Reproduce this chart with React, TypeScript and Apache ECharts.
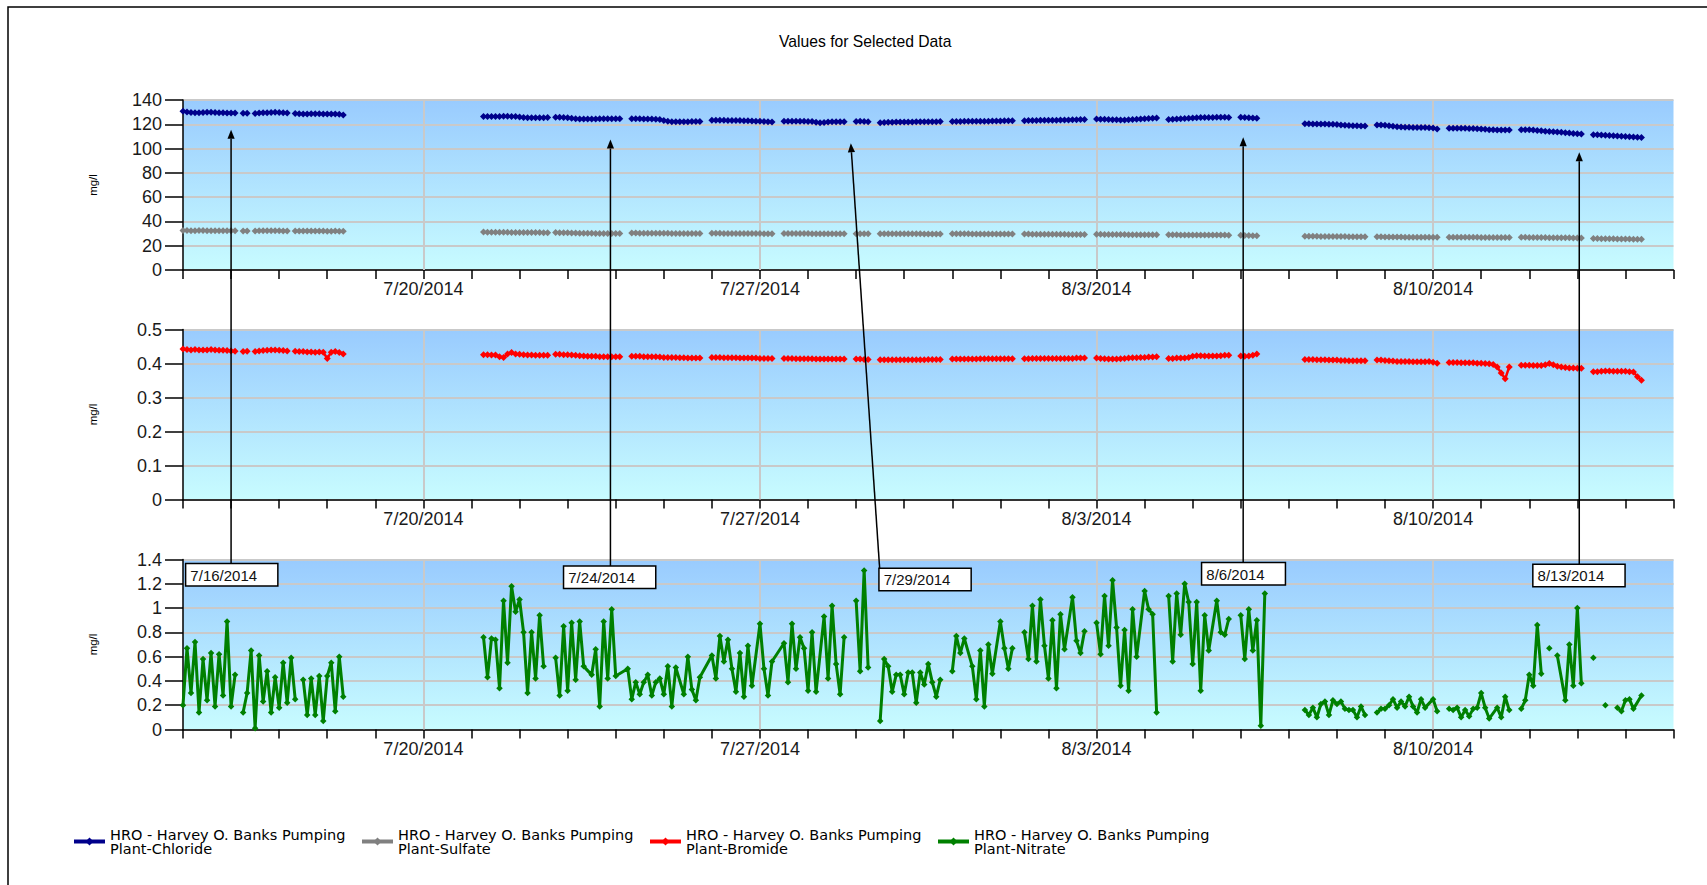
import React, { useEffect, useRef } from 'react';
import * as echarts from 'echarts';

const N = null;
const S = undefined; // sample absent, but the plotted line continues across it
const FONT = "'Liberation Sans', Arial, sans-serif";
const LEGEND_FONT = "'DejaVu Sans', Verdana, sans-serif";

// x axis: days since 7/15/2014 00:00, one sample slot every 2 hours
const SLOTS_PER_DAY = 12;
const X_MIN = 0;
const X_MAX = 31;
const weekTickDays = [5, 12, 19, 26];
const weekTickLabels = ['7/20/2014', '7/27/2014', '8/3/2014', '8/10/2014'];

const seriesNames = [
  'HRO - Harvey O. Banks Pumping Plant-Chloride',
  'HRO - Harvey O. Banks Pumping Plant-Sulfate',
  'HRO - Harvey O. Banks Pumping Plant-Bromide',
  'HRO - Harvey O. Banks Pumping Plant-Nitrate',
];
const seriesColors = ['#00008B', '#808080', '#FF0000', '#008000'];

// start slot of each run of samples shared by chloride, sulfate and bromide
const segmentStartSlots = [0, 15, 18, 28, 75, 93, 112, 132, 150, 168, 174, 192, 210, 228, 246, 264, 280, 298, 316, 334, 352];

const chlorideSegments = [
  [130.8, 130.2, 129.8, 129.5, 129.6, 129.8, 130, 130, 129.8, 129.6, 129.5, 129.3, 129.2, 129.2],
  [129.0, 129.0],
  [128.8, 129.2, 129.5, 129.6, 129.8, 129.9, 129.8, 129.5, 129.2],
  [128.8, 128.6, 128.5, 128.5, 128.6, 128.7, 128.6, 128.5, 128.4, 128.4, 128.5, 128.2, 127.6],
  [126.5, 126.5, 126.4, 126.4, 126.5, 126.6, 126.6, 126.5, 126.4, 126.0, 125.6, 125.4, 125.3, 125.3, 125.3, 125.4, 125.5],
  [125.8, 125.8, 125.6, 125.4, 125.0, 124.6, 124.4, 124.3, 124.3, 124.4, 124.4, 124.5, 124.5, 124.5, 124.6, 124.6, 124.5],
  [124.6, 124.5, 124.5, 124.4, 124.4, 124.3, 124.2, 124.0, 123.2, 122.4, 122.1, 122.0, 122.0, 122.1, 122.1, 122.2, 122.3, 122.3],
  [123.4, 123.4, 123.3, 123.3, 123.2, 123.2, 123.2, 123.1, 123.0, 123.0, 122.8, 122.6, 122.4, 122.2, 122.0, 121.8],
  [122.6, 122.6, 122.5, 122.5, 122.4, 122.4, 122.3, 122.2, 121.6, 121.2, 121.5, 121.8, 122.0, 122.0, 122.1, 122.1],
  [122.3, 122.4, 122.2, 122.0],
  [121.2, 121.4, 121.6, 121.7, 121.8, 121.8, 121.9, 121.9, 121.9, 122.0, 122.0, 122.0, 122.1, 122.1, 122.1, 122.2],
  [122.2, 122.3, 122.3, 122.4, 122.4, 122.4, 122.5, 122.5, 122.6, 122.6, 122.7, 122.8, 122.8, 122.9, 122.9, 123.0],
  [123.0, 123.1, 123.2, 123.2, 123.3, 123.3, 123.3, 123.4, 123.4, 123.5, 123.5, 123.6, 123.7, 123.8, 123.9, 124.0],
  [124.3, 124.2, 124.1, 123.9, 123.8, 123.7, 123.6, 123.6, 123.8, 124.0, 124.2, 124.4, 124.6, 124.8, 125.0, 125.2],
  [124.0, 124.2, 124.4, 124.6, 124.8, 125.0, 125.2, 125.4, 125.5, 125.6, 125.6, 125.6, 125.7, 125.7, 125.7, 125.6],
  [125.8, 125.6, 125.4, 125.2, 124.9],
  [120.4, 120.4, 120.3, 120.3, 120.2, 120.2, 120.1, 120.0, 119.8, 119.5, 119.2, 119.0, 118.8, 118.7, 118.6, 118.6],
  [119.5, 119.5, 119.3, 118.8, 118.3, 118.0, 117.8, 117.6, 117.5, 117.4, 117.4, 117.3, 117.3, 117.2, 117.0, 116.2],
  [116.8, 116.8, 116.8, 116.7, 116.7, 116.6, 116.5, 116.4, 116.2, 115.9, 115.6, 115.4, 115.3, 115.2, 115.2, 115.2],
  [115.6, 115.5, 115.4, 115.2, 114.9, 114.6, 114.3, 114.0, 113.8, 113.6, 113.4, 113.1, 112.8, 112.5, 112.3, 112.1],
  [111.4, 111.4, 111.2, 111.0, 110.8, 110.6, 110.4, 110.2, 110.0, 109.8, 109.6, 109.4, 109.1],
];

const sulfateSegments = [
  [32.6, 32.5, 32.4, 32.4, 32.5, 32.5, 32.4, 32.4, 32.3, 32.3, 32.4, 32.4, 32.3, 32.3],
  [32.2, 32.2],
  [32.2, 32.3, 32.4, 32.4, 32.4, 32.3, 32.3, 32.2, 32.2],
  [32.2, 32.1, 32.1, 32.1, 32.2, 32.2, 32.1, 32.1, 32.0, 32.0, 32.1, 32.0, 31.9],
  [31.2, 31.1, 31.1, 31.0, 31.0, 31.0, 31.0, 30.9, 30.9, 30.9, 30.9, 30.8, 30.8, 30.8, 30.8, 30.7, 30.7],
  [30.8, 30.7, 30.7, 30.6, 30.5, 30.4, 30.3, 30.2, 30.2, 30.2, 30.1, 30.1, 30.1, 30.0, 30.0, 30.0, 30.0],
  [30.4, 30.4, 30.3, 30.3, 30.3, 30.3, 30.2, 30.2, 30.2, 30.2, 30.1, 30.1, 30.1, 30.1, 30.0, 30.0, 30.0, 30.0],
  [30.2, 30.2, 30.2, 30.1, 30.1, 30.1, 30.1, 30.1, 30.0, 30.0, 30.0, 30.0, 30.0, 29.9, 29.9, 29.9],
  [30.1, 30.1, 30.0, 30.0, 30.0, 30.0, 30.0, 29.9, 29.9, 29.9, 29.9, 29.9, 29.9, 29.9, 29.9, 29.8],
  [29.9, 29.9, 29.9, 29.9],
  [29.9, 29.9, 29.9, 29.9, 29.8, 29.8, 29.8, 29.8, 29.8, 29.8, 29.8, 29.7, 29.7, 29.7, 29.7, 29.7],
  [29.8, 29.8, 29.8, 29.8, 29.8, 29.7, 29.7, 29.7, 29.7, 29.7, 29.7, 29.6, 29.6, 29.6, 29.6, 29.6],
  [29.6, 29.6, 29.5, 29.5, 29.5, 29.5, 29.4, 29.4, 29.4, 29.4, 29.4, 29.3, 29.3, 29.3, 29.3, 29.3],
  [29.4, 29.4, 29.3, 29.3, 29.3, 29.2, 29.2, 29.2, 29.1, 29.1, 29.1, 29.1, 29.0, 29.0, 29.0, 29.0],
  [29.0, 29.0, 29.0, 28.9, 28.9, 28.9, 28.9, 28.9, 28.8, 28.8, 28.8, 28.8, 28.8, 28.8, 28.8, 28.7],
  [28.6, 28.5, 28.4, 28.3, 28.3],
  [27.8, 27.8, 27.7, 27.7, 27.6, 27.6, 27.6, 27.5, 27.5, 27.5, 27.5, 27.4, 27.4, 27.4, 27.4, 27.3],
  [27.3, 27.3, 27.2, 27.2, 27.1, 27.1, 27.1, 27.0, 27.0, 27.0, 27.0, 26.9, 26.9, 26.9, 26.9, 26.9],
  [27.0, 27.0, 27.0, 26.9, 26.9, 26.9, 26.9, 26.9, 26.8, 26.8, 26.8, 26.8, 26.8, 26.7, 26.7, 26.7],
  [26.9, 26.9, 26.8, 26.8, 26.8, 26.7, 26.7, 26.6, 26.6, 26.6, 26.5, 26.5, 26.5, 26.4, 26.4, 26.4],
  [25.9, 25.9, 25.8, 25.8, 25.7, 25.7, 25.6, 25.6, 25.5, 25.5, 25.4, 25.4, 25.3],
];

const bromideSegments = [
  [0.443, 0.441, 0.440, 0.441, 0.440, 0.440, 0.440, 0.441, 0.440, 0.439, 0.439, 0.438, 0.437, 0.436],
  [0.435, 0.436],
  [0.435, 0.437, 0.438, 0.439, 0.440, 0.440, 0.439, 0.438, 0.437],
  [0.436, 0.435, 0.435, 0.434, 0.434, 0.433, 0.434, 0.433, 0.415, 0.433, 0.435, 0.432, 0.428],
  [0.426, 0.426, 0.425, 0.425, 0.420, 0.418, 0.428, 0.432, 0.428, 0.427, 0.426, 0.425, 0.425, 0.424, 0.424, 0.424, 0.424],
  [0.427, 0.427, 0.426, 0.426, 0.425, 0.424, 0.423, 0.422, 0.421, 0.421, 0.421, 0.420, 0.420, 0.420, 0.420, 0.420, 0.420],
  [0.421, 0.421, 0.421, 0.420, 0.420, 0.420, 0.420, 0.419, 0.418, 0.418, 0.418, 0.418, 0.417, 0.417, 0.416, 0.416, 0.416, 0.416],
  [0.418, 0.418, 0.418, 0.417, 0.417, 0.417, 0.417, 0.416, 0.416, 0.416, 0.416, 0.416, 0.415, 0.415, 0.415, 0.415],
  [0.415, 0.415, 0.415, 0.414, 0.414, 0.414, 0.414, 0.414, 0.413, 0.413, 0.413, 0.413, 0.413, 0.413, 0.413, 0.413],
  [0.413, 0.413, 0.412, 0.412],
  [0.411, 0.411, 0.411, 0.411, 0.411, 0.411, 0.411, 0.411, 0.411, 0.411, 0.411, 0.411, 0.412, 0.412, 0.412, 0.412],
  [0.413, 0.413, 0.413, 0.413, 0.413, 0.413, 0.413, 0.414, 0.414, 0.414, 0.414, 0.414, 0.414, 0.414, 0.414, 0.414],
  [0.414, 0.414, 0.415, 0.415, 0.415, 0.415, 0.415, 0.415, 0.415, 0.415, 0.415, 0.415, 0.415, 0.416, 0.416, 0.416],
  [0.416, 0.415, 0.414, 0.413, 0.413, 0.413, 0.414, 0.415, 0.416, 0.417, 0.417, 0.418, 0.418, 0.419, 0.419, 0.420],
  [0.415, 0.415, 0.416, 0.416, 0.416, 0.418, 0.421, 0.423, 0.423, 0.422, 0.422, 0.422, 0.422, 0.423, 0.424, 0.424],
  [0.422, 0.421, 0.422, 0.424, 0.428],
  [0.412, 0.412, 0.412, 0.411, 0.411, 0.411, 0.410, 0.410, 0.410, 0.409, 0.409, 0.408, 0.408, 0.408, 0.408, 0.408],
  [0.410, 0.410, 0.409, 0.408, 0.407, 0.406, 0.406, 0.406, 0.406, 0.405, 0.405, 0.405, 0.405, 0.406, 0.404, 0.401],
  [0.403, 0.403, 0.403, 0.402, 0.402, 0.402, 0.402, 0.401, 0.401, 0.400, 0.399, 0.397, 0.390, 0.372, 0.355, 0.390],
  [0.395, 0.395, 0.395, 0.394, 0.394, 0.394, 0.396, 0.400, 0.396, 0.392, 0.390, 0.388, 0.387, 0.387, 0.386, 0.386],
  [0.376, 0.376, 0.377, 0.378, 0.378, 0.377, 0.377, 0.377, 0.377, 0.376, 0.375, 0.361, 0.351],
];

// nitrate, one value per 2-hour slot from 7/15 00:00 (N = gap, S = skipped sample)
const nitrate = [
  0.20, 0.67, 0.30, 0.72, 0.14, 0.58, 0.24, 0.63, 0.19, 0.62, 0.28, 0.89, // 7/15
  0.19, 0.45, N, 0.14, 0.30, 0.65, 0.01, 0.61, 0.23, 0.48, 0.14, 0.43, // 7/16
  0.18, 0.55, 0.22, 0.59, 0.25, N, 0.41, 0.12, 0.42, 0.12, 0.44, 0.07, // 7/17
  0.44, 0.55, 0.15, 0.60, 0.27, N, N, N, N, N, N, N, // 7/18
  N, N, N, N, N, N, N, N, N, N, N, N, // 7/19
  N, N, N, N, N, N, N, N, N, N, N, N, // 7/20
  N, N, N, 0.76, 0.43, 0.75, 0.74, 0.34, 1.06, 0.55, 1.18, 0.97, // 7/21
  1.07, 0.80, 0.30, 0.80, 0.42, 0.94, 0.52, N, N, 0.59, 0.28, 0.85, // 7/22
  0.32, 0.88, 0.41, 0.89, 0.52, S, 0.45, 0.66, 0.19, 0.89, 0.42, 0.99, // 7/23
  0.44, S, S, 0.50, 0.25, 0.39, 0.29, 0.39, 0.45, 0.28, 0.39, 0.42, // 7/24
  0.29, 0.52, 0.19, 0.51, S, 0.29, 0.60, 0.33, 0.24, 0.43, S, S, // 7/25
  0.61, 0.42, 0.77, 0.56, 0.74, 0.50, 0.31, 0.63, 0.27, 0.69, 0.36, S, // 7/26
  0.87, 0.50, 0.28, 0.56, S, S, 0.71, 0.39, 0.87, 0.50, 0.76, 0.67, // 7/27
  0.32, 0.80, 0.31, S, 0.93, 0.42, 1.02, 0.54, 0.29, 0.76, N, N, // 7/28
  1.06, 0.48, 1.31, 0.51, N, N, 0.07, 0.58, 0.52, 0.31, 0.45, 0.45, // 7/29
  0.29, 0.47, 0.47, 0.22, 0.47, 0.37, 0.54, 0.39, 0.27, 0.41, N, N, // 7/30
  0.48, 0.77, 0.63, 0.75, S, 0.52, 0.25, 0.65, 0.19, 0.70, 0.46, S, // 7/31
  0.89, 0.67, 0.50, 0.67, N, N, 0.80, 0.58, 1.02, 0.56, 1.07, 0.69, // 8/1
  0.42, 0.90, 0.34, 0.95, 0.66, S, 1.09, 0.73, 0.63, 0.81, N, N, // 8/2
  0.88, 0.62, 1.10, 0.69, 1.23, 0.84, 0.36, 0.82, 0.32, 0.99, 0.60, S, // 8/3
  1.14, 0.99, 0.95, 0.14, N, N, 1.10, 0.56, 1.12, 0.78, 1.20, 1.05, // 8/4
  0.54, 1.05, 0.32, 0.94, 0.65, S, 1.06, 0.80, 0.78, 0.91, N, N, // 8/5
  0.94, 0.58, 0.99, 0.65, 0.90, 0.03, 1.12, N, N, N, N, N, // 8/6
  N, N, N, N, 0.16, 0.12, 0.18, 0.10, 0.21, 0.23, 0.12, 0.24, // 8/7
  0.21, 0.23, 0.17, 0.16, 0.16, 0.10, 0.19, 0.12, N, N, 0.14, 0.17, // 8/8
  0.17, 0.20, 0.25, 0.18, 0.23, 0.19, 0.27, 0.19, 0.14, 0.25, 0.18, S, // 8/9
  0.25, 0.15, N, N, 0.17, 0.16, 0.18, 0.10, 0.16, 0.11, 0.17, 0.18, // 8/10
  0.30, 0.18, 0.09, S, 0.18, 0.10, 0.27, 0.16, N, N, 0.17, 0.24, // 8/11
  0.45, 0.36, 0.86, 0.46, N, 0.67, N, 0.61, S, 0.24, 0.70, 0.36, // 8/12
  1.00, 0.38, N, N, 0.59, N, N, 0.20, N, N, 0.18, 0.15, // 8/13
  0.24, 0.25, 0.17, S, 0.28, // 8/14
];

// callouts: date boxes in the nitrate pane, arrows pointing into the chloride pane
const calloutLabels = ['7/16/2014', '7/24/2014', '7/29/2014', '8/6/2014', '8/13/2014'];
const calloutBoxDay = [0.07, 7.93, 14.49, 21.2, 28.09];
const calloutBoxValue = [1.36, 1.341, 1.322, 1.369, 1.355];
const calloutBaseDay = [1.0, 8.89, 14.49, 22.05, 29.04];
const calloutTipDay = [1.0, 8.89, 13.89, 22.05, 29.04];
const calloutTipValue = [115.5, 107.5, 104.4, 109.4, 96.9];

const yMax = [140, 0.5, 1.4];
const yInterval = [20, 0.1, 0.2];

function segmentData(segs: number[][]) {
  const out: any[] = [];
  segs.forEach((vals, k) => {
    vals.forEach((v, j) => out.push([(segmentStartSlots[k] + j) / SLOTS_PER_DAY, v]));
    out.push([(segmentStartSlots[k] + vals.length) / SLOTS_PER_DAY, '-']);
  });
  return out;
}

function slotData(arr: (number | null | undefined)[]) {
  const out: any[] = [];
  arr.forEach((v, i) => {
    if (v === undefined) return;
    out.push([i / SLOTS_PER_DAY, v === null ? '-' : v]);
  });
  return out;
}

const GRID_TOPS = [100, 329.5, 559.5];

function buildOption() {
  const grids = GRID_TOPS.map((top) => ({
    left: 183,
    right: 33.5,
    top,
    height: 170,
    show: true,
    borderWidth: 0,
    backgroundColor: new echarts.graphic.LinearGradient(0, 0, 0, 1, [
      { offset: 0, color: '#99CBFE' },
      { offset: 1, color: '#C8FCFF' },
    ]),
  }));

  const xAxes = GRID_TOPS.map((_, k) => ({
    type: 'value',
    gridIndex: k,
    min: X_MIN,
    max: X_MAX,
    interval: 1,
    axisLine: { show: true, onZero: false, lineStyle: { color: '#000', width: 1.5 } },
    axisTick: { show: true, length: 9, lineStyle: { color: '#000', width: 1.5 } },
    axisLabel: {
      margin: 10,
      fontSize: 18,
      fontFamily: FONT,
      color: '#1a1a1a',
      formatter: (v: number) => {
        const i = weekTickDays.indexOf(Math.round(v));
        return i >= 0 && Math.abs(v - Math.round(v)) < 1e-6 ? weekTickLabels[i] : '';
      },
    },
    splitLine: { show: false },
  }));

  const yAxes = GRID_TOPS.map((_, k) => ({
    type: 'value',
    gridIndex: k,
    min: 0,
    max: yMax[k],
    interval: yInterval[k],
    name: 'mg/l',
    nameLocation: 'middle',
    nameGap: 84,
    nameTextStyle: { fontSize: 11.5, fontFamily: FONT, color: '#000' },
    axisLine: { show: true, lineStyle: { color: '#000', width: 1.5 } },
    axisTick: { show: true, length: 18, lineStyle: { color: '#000', width: 1.5 } },
    axisLabel: { margin: 21, fontSize: 18, fontFamily: FONT, color: '#1a1a1a' },
    splitLine: { show: true, lineStyle: { color: '#C9C9C9', width: 2 } },
  }));

  const gridLineSeries = GRID_TOPS.map((_, k) => ({
    type: 'line',
    name: 'weekly-grid-' + k,
    xAxisIndex: k,
    yAxisIndex: k,
    data: [],
    silent: true,
    z: 1,
    markLine: {
      z: 1,
      silent: true,
      symbol: ['none', 'none'],
      label: { show: false },
      lineStyle: { color: '#C9C9C9', width: 2, type: 'solid' },
      emphasis: { disabled: true },
      data: weekTickDays.map((d) => ({ xAxis: d })),
    },
  }));

  const mk = (name: string, color: string, data: any[], k: number, lw: number, size: number) => ({
    type: 'line',
    name,
    xAxisIndex: k,
    yAxisIndex: k,
    data,
    symbol: 'diamond',
    symbolSize: size,
    showSymbol: true,
    showAllSymbol: true,
    connectNulls: false,
    z: 3,
    lineStyle: { color, width: lw },
    itemStyle: { color },
    emphasis: { disabled: true },
  });

  return {
    animation: false,
    backgroundColor: '#fff',
    textStyle: { fontFamily: FONT },
    title: {
      text: 'Values for Selected Data',
      left: 779,
      top: 33,
      padding: 0,
      textStyle: { fontSize: 15.7, fontWeight: 'normal', color: '#000', fontFamily: FONT },
    },
    legend: {
      data: seriesNames,
      left: 72,
      top: 827,
      padding: 0,
      orient: 'horizontal',
      itemWidth: 31,
      itemHeight: 10,
      itemGap: 10,
      selectedMode: false,
      formatter: (name: string) => name.replace(' Plant-', '\nPlant-'),
      textStyle: { fontSize: 14.5, lineHeight: 14, fontFamily: LEGEND_FONT, color: '#000', width: 240 },
      lineStyle: { width: 4 },
    },
    grid: grids,
    xAxis: xAxes,
    yAxis: yAxes,
    series: [
      ...gridLineSeries,
      mk(seriesNames[0], seriesColors[0], segmentData(chlorideSegments), 0, 2.5, 7),
      mk(seriesNames[1], seriesColors[1], segmentData(sulfateSegments), 0, 2.5, 7),
      mk(seriesNames[2], seriesColors[2], segmentData(bromideSegments), 1, 2.5, 7),
      mk(seriesNames[3], seriesColors[3], slotData(nitrate), 2, 3, 6.5),
    ],
    graphic: [
      {
        type: 'rect',
        z: 100,
        silent: true,
        shape: { x: 8, y: 7, width: 1720, height: 900 },
        style: { fill: 'none', stroke: '#000', lineWidth: 1.5 },
      },
    ],
  };
}

function buildCallouts(chart: any) {
  const els: any[] = [];
  calloutLabels.forEach((label, i) => {
    const tip = chart.convertToPixel({ xAxisIndex: 0, yAxisIndex: 0 }, [calloutTipDay[i], calloutTipValue[i]]);
    const base = chart.convertToPixel({ xAxisIndex: 2, yAxisIndex: 2 }, [calloutBaseDay[i], calloutBoxValue[i]]);
    const box = chart.convertToPixel({ xAxisIndex: 2, yAxisIndex: 2 }, [calloutBoxDay[i], calloutBoxValue[i]]);
    const dx = tip[0] - base[0];
    const dy = tip[1] - base[1];
    const len = Math.sqrt(dx * dx + dy * dy) || 1;
    const ux = dx / len;
    const uy = dy / len;
    const L = 9;
    const W = 3.6;
    const bx = tip[0] - ux * L;
    const by = tip[1] - uy * L;
    els.push({
      type: 'line',
      z: 100,
      silent: true,
      shape: { x1: base[0], y1: base[1], x2: bx, y2: by },
      style: { stroke: '#000', lineWidth: 1.5 },
    });
    els.push({
      type: 'polygon',
      z: 100,
      silent: true,
      shape: {
        points: [
          [tip[0], tip[1]],
          [bx - uy * W, by + ux * W],
          [bx + uy * W, by - ux * W],
        ],
      },
      style: { fill: '#000' },
    });
    els.push({
      type: 'text',
      z: 101,
      silent: true,
      x: box[0],
      y: box[1],
      style: {
        text: label,
        fontSize: 15,
        fontFamily: FONT,
        fill: '#111',
        align: 'left',
        verticalAlign: 'top',
        lineHeight: 16,
        backgroundColor: '#fff',
        borderColor: '#000',
        borderWidth: 1.5,
        padding: [3, 20, 2, 4],
      },
    });
  });
  return els;
}

export default function App() {
  const ref = useRef<HTMLDivElement>(null);
  useEffect(() => {
    const el = ref.current;
    if (!el) return;
    const chart = echarts.init(el, undefined, { renderer: 'svg', width: 1707, height: 885 });
    const option: any = buildOption();
    chart.setOption(option);
    const callouts = buildCallouts(chart);
    chart.setOption({ graphic: [...option.graphic, ...callouts] });
    return () => chart.dispose();
  }, []);
  return (
    <div
      ref={ref}
      style={{ position: 'fixed', left: 0, top: 0, width: 1707, height: 885, background: '#fff' }}
    />
  );
}
